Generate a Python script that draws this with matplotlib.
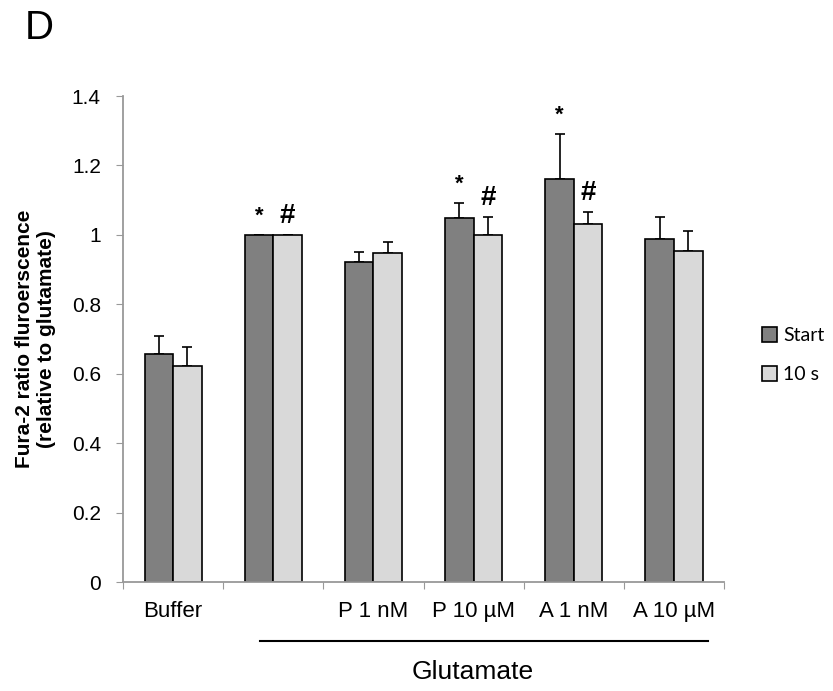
import matplotlib.pyplot as plt
import numpy as np

plt.rcParams['font.family'] = ['Liberation Sans', 'DejaVu Sans']

groups = ["Buffer", "", "P 1 nM", "P 10 \u00b5M", "A 1 nM", "A 10 \u00b5M"]
start_mean = [0.656, 1.0, 0.921, 1.050, 1.160, 0.987]
start_err = [0.053, 0.0, 0.031, 0.043, 0.131, 0.064]
s10_mean = [0.623, 1.0, 0.949, 1.000, 1.031, 0.955]
s10_err = [0.055, 0.0, 0.031, 0.053, 0.035, 0.057]
star_marks = [None, "*", None, "*", "*", None]
hash_marks = [None, "#", None, "#", "#", None]

fig = plt.figure(figsize=(8.33, 6.91), dpi=100)
ax = fig.add_axes([0.1477, 0.1577, 0.7215, 0.7033])

x = np.arange(len(groups))
w = 0.285
dark = "#808080"
light = "#d9d9d9"

ax.bar(x - w / 2, start_mean, w, color=dark, edgecolor="black", linewidth=1.2,
       label="Start", zorder=2)
ax.bar(x + w / 2, s10_mean, w, color=light, edgecolor="black", linewidth=1.2,
       label="10 s", zorder=2)

# upper error bars only
ax.errorbar(x - w / 2, start_mean, yerr=[np.zeros(len(x)), start_err], fmt="none",
            ecolor="black", elinewidth=1.2, capsize=3.8, capthick=1.2, zorder=1)
ax.errorbar(x + w / 2, s10_mean, yerr=[np.zeros(len(x)), s10_err], fmt="none",
            ecolor="black", elinewidth=1.2, capsize=3.8, capthick=1.2, zorder=1)

for i in range(len(groups)):
    if star_marks[i]:
        ax.annotate(star_marks[i], (x[i] - w / 2, start_mean[i] + start_err[i]),
                    xytext=(0, 6), textcoords="offset points", ha="center",
                    va="bottom", fontsize=16, fontweight="bold")
    if hash_marks[i]:
        ax.annotate(hash_marks[i], (x[i] + w / 2, s10_mean[i] + s10_err[i]),
                    xytext=(0, 4), textcoords="offset points", ha="center",
                    va="bottom", fontsize=20, fontweight="bold")

ax.set_xlim(-0.5, len(groups) - 0.5)
ax.set_ylim(0, 1.4)
ax.set_yticks(np.arange(0, 1.41, 0.2))
ax.set_yticklabels(["0", "0.2", "0.4", "0.6", "0.8", "1", "1.2", "1.4"])
ax.set_xticks(np.arange(-0.5, len(groups), 1.0))
ax.set_xticklabels([])
ax.set_xticks(x, minor=True)
ax.set_xticklabels(groups, minor=True)
ax.tick_params(axis="x", which="minor", length=0, labelsize=16, pad=14)
ax.tick_params(axis="x", which="major", direction="out", length=5, color="#999999")
ax.tick_params(axis="y", direction="out", length=5, color="#999999", labelsize=15, pad=11)

for side in ["top", "right"]:
    ax.spines[side].set_visible(False)
for side in ["left", "bottom"]:
    ax.spines[side].set_color("#999999")
    ax.spines[side].set_linewidth(1.3)

ax.set_ylabel("Fura-2 ratio fluroerscence\n(relative to glutamate)",
              fontsize=15, fontweight="bold", labelpad=11)

# bracket under the glutamate conditions
fig.add_artist(plt.Line2D([260 / 833, 708 / 833], [1 - 641 / 691, 1 - 641 / 691],
                          color="black", linewidth=1.5))
fig.text(473 / 833, 1 - 672 / 691, "Glutamate", ha="center", va="center", fontsize=19)

fig.text(25 / 833, 1 - 28 / 691, "D", ha="left", va="center", fontsize=29)

ax.legend(loc="center left", bbox_to_anchor=(1.0 + 20 / 601, 0.5 - 16 / 486),
          frameon=False, handlelength=0.8, handleheight=0.8, handletextpad=0.3,
          labelspacing=1.15, prop={"family": "Lato", "size": 14})

fig.savefig("out.png", dpi=100)
